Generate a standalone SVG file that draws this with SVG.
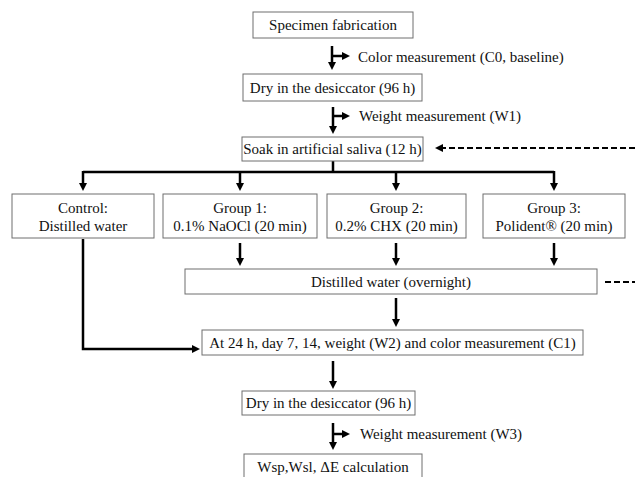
<svg xmlns="http://www.w3.org/2000/svg" width="635" height="477" viewBox="0 0 635 477">
<defs>
<marker id="ah" viewBox="0 0 10 10" refX="2.5" refY="5" markerWidth="8" markerHeight="8" markerUnits="userSpaceOnUse" orient="auto">
<path d="M0,0 L10,5 L0,10 z" fill="#000"/>
</marker>
<style>
.box{fill:#fff;stroke:#6e6e6e;stroke-width:1}
.t{font-family:"Liberation Serif","Times New Roman",serif;font-size:15px;fill:#111;text-anchor:middle;dominant-baseline:central}
.tl{font-family:"Liberation Serif","Times New Roman",serif;font-size:15px;fill:#111;dominant-baseline:central}
.c{fill:none;stroke:#000;stroke-width:2.5}
.a{fill:none;stroke:#000;stroke-width:2.5;marker-end:url(#ah)}
.d{fill:none;stroke:#000;stroke-width:2.2;stroke-dasharray:6 3}
</style>
</defs>
<rect width="635" height="477" fill="#fff"/>
<g id="connectors">
<path class="a" d="M332,46 V64"/>
<path class="a" d="M332,56 H344"/>
<path class="a" d="M333,107 V128"/>
<path class="a" d="M333,116 H344"/>
<path class="c" d="M333,161 V172 M83,172 H554"/>
<path class="a" d="M83,171 V185"/>
<path class="a" d="M240,171 V185"/>
<path class="a" d="M396,171 V185"/>
<path class="a" d="M554,171 V185"/>
<path class="a" d="M240,243 V260"/>
<path class="a" d="M396,243 V260"/>
<path class="a" d="M554,243 V260"/>
<path class="a" d="M396,298 V321"/>
<path class="a" d="M83,239 V349 H194"/>
<path class="a" d="M333,361 V383"/>
<path class="a" d="M333,423 V444"/>
<path class="a" d="M333,434 H344"/>
<path class="d" d="M635,148 H441"/>
<path d="M435,148 L443,144 L443,152 z" fill="#000"/>
<path class="d" d="M605,282 H635"/>
</g>
<g id="specimen"><rect class="box" x="253" y="12" width="160" height="26"/><text class="t" x="333" y="25">Specimen fabrication</text></g>
<g id="color0"><text class="tl" x="358" y="57">Color measurement (C0, baseline)</text></g>
<g id="dry1"><rect class="box" x="243" y="74" width="179" height="27"/><text class="t" x="332.5" y="87.5">Dry in the desiccator (96 h)</text></g>
<g id="weight1"><text class="tl" x="359" y="116">Weight measurement (W1)</text></g>
<g id="soak"><rect class="box" x="242" y="137" width="181" height="24"/><text class="t" x="332.5" y="149">Soak in artificial saliva (12 h)</text></g>
<g id="control"><rect class="box" x="12" y="194" width="142" height="44"/><text class="t" x="83" y="208">Control:</text><text class="t" x="83" y="226">Distilled water</text></g>
<g id="group1"><rect class="box" x="163" y="194" width="154" height="44"/><text class="t" x="240" y="208">Group 1:</text><text class="t" x="240" y="226">0.1% NaOCl (20 min)</text></g>
<g id="group2"><rect class="box" x="327" y="194" width="139" height="44"/><text class="t" x="396.5" y="208">Group 2:</text><text class="t" x="396.5" y="226">0.2% CHX (20 min)</text></g>
<g id="group3"><rect class="box" x="483" y="194" width="142" height="44"/><text class="t" x="554" y="208">Group 3:</text><text class="t" x="554" y="226">Polident® (20 min)</text></g>
<g id="overnight"><rect class="box" x="185" y="269" width="412" height="25"/><text class="t" x="391" y="281.5">Distilled water (overnight)</text></g>
<g id="measure"><rect class="box" x="202" y="330" width="381" height="25"/><text class="t" x="392.5" y="342.5">At 24 h, day 7, 14, weight (W2) and color measurement (C1)</text></g>
<g id="dry2"><rect class="box" x="242" y="391" width="173" height="24"/><text class="t" x="328.5" y="403">Dry in the desiccator (96 h)</text></g>
<g id="weight3"><text class="tl" x="360" y="434">Weight measurement (W3)</text></g>
<g id="calc"><rect class="box" x="244" y="454" width="178" height="30"/><text class="t" x="333" y="467">Wsp,Wsl, ΔE calculation</text></g>
</svg>
